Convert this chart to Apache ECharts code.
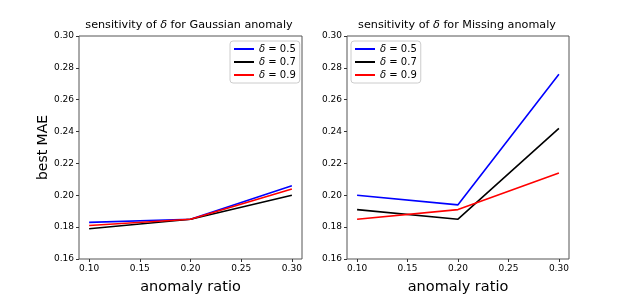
<!DOCTYPE html>
<html><head><meta charset="utf-8">
<script src="https://cdn.jsdelivr.net/npm/echarts@6/dist/echarts.min.js"></script>
<style>html,body{margin:0;padding:0;background:#fff}#c{width:632px;height:300px}</style>
</head><body><div id="c"></div>
<script>
const ratios = [0.10, 0.20, 0.30];
const xTicks = [0.10, 0.15, 0.20, 0.25, 0.30];
const deltas = ['0.5', '0.7', '0.9'];
const colors = ['#0000ff', '#000000', '#ff0000'];
const gaussD05 = [0.183, 0.185, 0.206];
const gaussD07 = [0.179, 0.185, 0.200];
const gaussD09 = [0.181, 0.185, 0.204];
const missD05 = [0.200, 0.194, 0.276];
const missD07 = [0.191, 0.185, 0.242];
const missD09 = [0.185, 0.191, 0.214];
const titles = ['Gaussian', 'Missing'];

const font = 'DejaVu Sans';
const chart = echarts.init(document.getElementById('c'));
const gaussSeries = [gaussD05, gaussD07, gaussD09];
const missSeries = [missD05, missD07, missD09];

function xAxis(i) {
  return {
    type: 'value', gridIndex: i, min: 0.09, max: 0.31,
    name: 'anomaly ratio', nameLocation: 'middle', nameGap: 21,
    nameTextStyle: { fontFamily: font, fontSize: 14.5, color: '#000' },
    axisLine: { show: false },
    splitLine: { show: false },
    axisTick: { show: true, customValues: xTicks, length: 3, lineStyle: { color: '#333' } },
    axisLabel: { customValues: xTicks, formatter: v => v.toFixed(2), fontFamily: font, fontSize: 9, color: '#000', margin: 5 }
  };
}
function yAxis(i) {
  return {
    type: 'value', gridIndex: i, min: 0.16, max: 0.30, interval: 0.02,
    name: i === 0 ? 'best MAE' : '', nameLocation: 'middle', nameGap: 25,
    nameTextStyle: { fontFamily: font, fontSize: 14, color: '#000' },
    axisLine: { show: false },
    splitLine: { show: false },
    axisTick: { show: true, length: 3, lineStyle: { color: '#333' } },
    axisLabel: { formatter: v => v.toFixed(2), fontFamily: font, fontSize: 9, color: '#000', margin: 5 }
  };
}
const series = [];
[gaussSeries, missSeries].forEach((set, gi) => {
  set.forEach((vals, k) => {
    series.push({
      type: 'line', name: 'd' + deltas[k], xAxisIndex: gi, yAxisIndex: gi,
      data: ratios.map((r, j) => [r, vals[j]]),
      symbol: 'none', lineStyle: { color: colors[k], width: 1.6 }, itemStyle: { color: colors[k] },
      emphasis: { disabled: true }
    });
  });
});
function legend(gi, pos) {
  return Object.assign({
    data: deltas.map((d, k) => ({ name: 'd' + d, itemStyle: { color: colors[k] } })),
    orient: 'vertical',
    formatter: n => '{i|δ} = ' + n.slice(1),
    textStyle: { fontFamily: font, fontSize: 10, color: '#000', rich: { i: { fontStyle: 'italic', fontFamily: font, fontSize: 10 } } },
    icon: 'path://M0,0L20,0L20,2L0,2Z',
    itemWidth: 20, itemHeight: 2, itemGap: 3,
    borderColor: '#ccc', borderWidth: 1, borderRadius: 3,
    padding: [3, 4, 3, 4], backgroundColor: '#fff',
    selectedMode: false
  }, pos);
}
chart.setOption({
  animation: false,
  title: titles.map((t, i) => ({
    text: 'sensitivity of {i|δ} for ' + t + ' anomaly',
    left: i === 0 ? 184 : 452, top: 15, textAlign: 'center',
    textStyle: { fontFamily: font, fontSize: 11.2, fontWeight: 'normal', color: '#000',
      rich: { i: { fontStyle: 'italic', fontFamily: font, fontSize: 11.2 } } }
  })),
  grid: [
    { left: 79, top: 36, width: 223, height: 231, show: true, borderColor: '#555', borderWidth: 1, backgroundColor: 'transparent' },
    { left: 347, top: 36, width: 222, height: 231, show: true, borderColor: '#555', borderWidth: 1, backgroundColor: 'transparent' }
  ],
  xAxis: [xAxis(0), xAxis(1)],
  yAxis: [yAxis(0), yAxis(1)],
  legend: [legend(0, { left: 230, top: 41 }), legend(1, { left: 351, top: 41 })],
  series: series
});
</script></body></html>
